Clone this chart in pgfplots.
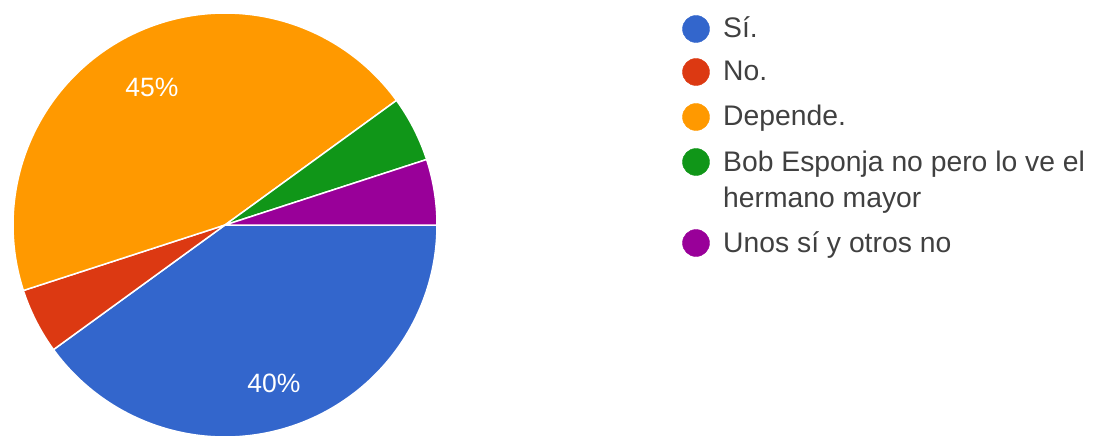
\documentclass[border=0pt]{standalone}
\usepackage{pgfplots}
\pgfplotsset{compat=1.18}
\usepackage{fontspec}
\setmainfont{Liberation Sans}
\definecolor{cSi}{HTML}{3366CC}
\definecolor{cNo}{HTML}{DC3912}
\definecolor{cDep}{HTML}{FF9900}
\definecolor{cBob}{HTML}{109618}
\definecolor{cUnos}{HTML}{990099}
\definecolor{txt}{HTML}{404040}
% values (percent)
\def\vSi{40}
\def\vNo{5}
\def\vDep{45}
\def\vBob{5}
\def\vUnos{5}
\begin{document}
\begin{tikzpicture}
\pgfmathsetmacro\aA{0}
\pgfmathsetmacro\aB{\aA-3.6*\vSi}
\pgfmathsetmacro\aC{\aB-3.6*\vNo}
\pgfmathsetmacro\aD{\aC-3.6*\vDep}
\pgfmathsetmacro\aE{\aD-3.6*\vBob}
\pgfmathsetmacro\aF{\aE-3.6*\vUnos}
\begin{axis}[
  scale only axis, width=1095bp, height=437bp,
  xmin=-225, xmax=870, ymin=-212, ymax=225,
  hide axis, clip=false,
]
\addplot[fill=cSi, draw=white, line width=1.5bp, domain=\aB:\aA, samples=120, variable=\t] ({212*cos(t)},{212*sin(t)}) -- (axis cs:0,0) -- cycle;
\addplot[fill=cNo, draw=white, line width=1.5bp, domain=\aC:\aB, samples=30, variable=\t] ({212*cos(t)},{212*sin(t)}) -- (axis cs:0,0) -- cycle;
\addplot[fill=cDep, draw=white, line width=1.5bp, domain=\aD:\aC, samples=120, variable=\t] ({212*cos(t)},{212*sin(t)}) -- (axis cs:0,0) -- cycle;
\addplot[fill=cBob, draw=white, line width=1.5bp, domain=\aE:\aD, samples=30, variable=\t] ({212*cos(t)},{212*sin(t)}) -- (axis cs:0,0) -- cycle;
\addplot[fill=cUnos, draw=white, line width=1.5bp, domain=\aF:\aE, samples=30, variable=\t] ({212*cos(t)},{212*sin(t)}) -- (axis cs:0,0) -- cycle;
\node[text=white, font=\fontsize{26.5bp}{30bp}\selectfont] at (axis cs:-73,138) {45\%};
\node[text=white, font=\fontsize{26.5bp}{30bp}\selectfont] at (axis cs:49,-158) {40\%};
% legend markers
\addplot[only marks, mark=*, mark size=13.5bp, cSi] coordinates {(471,196)};
\addplot[only marks, mark=*, mark size=13.5bp, cNo] coordinates {(471,153)};
\addplot[only marks, mark=*, mark size=13.5bp, cDep] coordinates {(471,108)};
\addplot[only marks, mark=*, mark size=13.5bp, cBob] coordinates {(471,63)};
\addplot[only marks, mark=*, mark size=13.5bp, cUnos] coordinates {(471,-18)};
\begin{scope}[every node/.style={anchor=base west, inner sep=0pt, text=txt, font=\fontsize{28.3bp}{32bp}\selectfont}]
\node at (axis cs:498,187) {Sí.};
\node at (axis cs:498,144) {No.};
\node at (axis cs:498,99) {Depende.};
\node at (axis cs:498,54) {Bob Esponja no pero lo ve el};
\node at (axis cs:498,18) {hermano mayor};
\node at (axis cs:498,-27) {Unos sí y otros no};
\end{scope}
\end{axis}
\pgfresetboundingbox
\path (current axis.south west) rectangle (current axis.north east);
\end{tikzpicture}
\end{document}
